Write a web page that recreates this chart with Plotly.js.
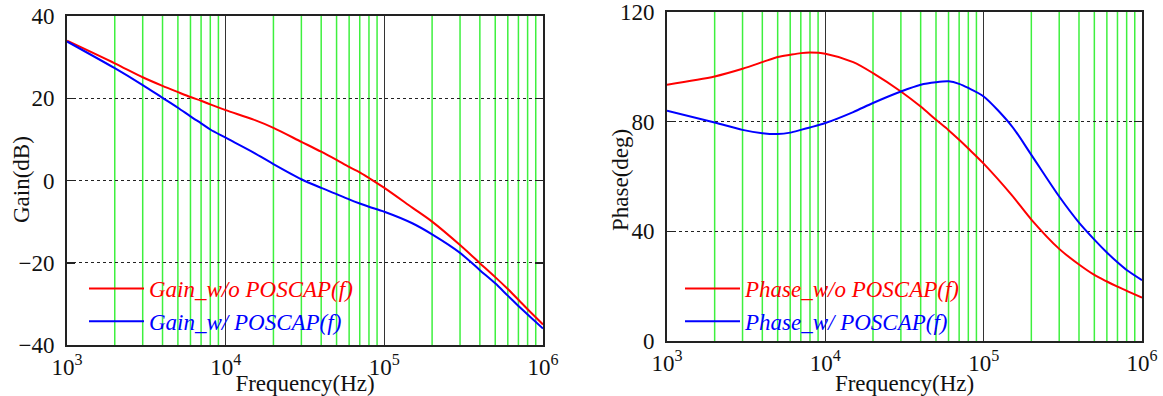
<!DOCTYPE html>
<html>
<head>
<meta charset="utf-8">
<script src="https://cdn.plot.ly/plotly-3.0.1.min.js"></script>
<style>
html,body{margin:0;padding:0;background:#fff;}
#chart{width:1163px;height:396px;}
#chart svg text, #chart svg tspan { font-family: "Liberation Serif", "DejaVu Serif", serif !important; }
</style>
</head>
<body>
<div id="chart"></div>
<script>
// ---- data ----
const freq = [1e3,2e3,3e3,4e3,5e3,6e3,7e3,8e3,1e4,1.5e4,2e4,3e4,4e4,5e4,6e4,7e4,8e4,1e5,1.5e5,2e5,3e5,4e5,5e5,6e5,7e5,8e5,1e6];
const gainWoPoscap = [34.0,28.5,25.1,23.0,21.5,20.3,19.4,18.5,17.1,14.8,12.8,9.4,7.0,5.0,3.3,2.0,0.6,-1.8,-6.6,-10.0,-15.7,-20.1,-23.5,-26.4,-29.0,-31.3,-35.0];
const gainWPoscap  = [33.8,27.3,23.2,20.1,17.7,15.6,13.9,12.4,10.4,6.8,4.0,0.3,-1.8,-3.3,-4.6,-5.6,-6.4,-7.6,-10.4,-13.1,-17.6,-21.8,-25.0,-28.0,-30.5,-32.6,-36.0];
const phaseWoPoscap = [93.5,96.5,99.3,101.7,103.6,104.4,105.0,105.2,104.8,101.7,97.7,91.0,85.5,80.7,76.9,73.4,70.2,64.7,53.3,44.3,33.6,27.9,24.1,21.7,19.8,18.3,15.8];
const phaseWPoscap  = [84.0,79.7,77.0,75.8,75.5,76.0,77.0,77.9,79.5,83.5,86.8,91.0,93.5,94.4,94.7,93.8,92.3,89.2,78.5,67.9,52.7,43.2,37.0,32.3,28.7,25.9,22.2];

const seriesNames = {
  gainWo: 'Gain_w/o POSCAP(f)',
  gainW: 'Gain_w/ POSCAP(f)',
  phaseWo: 'Phase_w/o POSCAP(f)',
  phaseW: 'Phase_w/ POSCAP(f)'
};
const xTickVals = [1e3,1e4,1e5,1e6];
const xTickText = ['10<sup>3</sup>','10<sup>4</sup>','10<sup>5</sup>','10<sup>6</sup>'];
const minorMult = [2,3,4,5,6,7,8,9];
const decades = [1e3,1e4,1e5];
const minorVals = [];
decades.forEach(d => minorMult.forEach(m => minorVals.push(d*m)));
const gainTicks = [-40,-20,0,20,40];
const phaseTicks = [0,40,80,120];

// ---- styling ----
const FONT = 'Liberation Serif';
const RED = '#ff0000', BLUE = '#0000ff', GREEN = '#3ef03e';
const legName = (t,c) => '<span style="color:'+c+'"><i>'+t+'</i></span>';

const traces = [
  {x:freq, y:gainWoPoscap, name:legName(seriesNames.gainWo,RED), type:'scatter', mode:'lines',
   line:{color:RED,width:2,shape:'spline',smoothing:0.8}, xaxis:'x', yaxis:'y', legend:'legend', legendgroup:'a'},
  {x:freq, y:gainWPoscap, name:legName(seriesNames.gainW,BLUE), type:'scatter', mode:'lines',
   line:{color:BLUE,width:2,shape:'spline',smoothing:0.8}, xaxis:'x', yaxis:'y', legend:'legend', legendgroup:'b'},
  {x:freq, y:phaseWoPoscap, name:legName(seriesNames.phaseWo,RED), type:'scatter', mode:'lines',
   line:{color:RED,width:2,shape:'spline',smoothing:0.8}, xaxis:'x2', yaxis:'y2', legend:'legend2', legendgroup:'c'},
  {x:freq, y:phaseWPoscap, name:legName(seriesNames.phaseW,BLUE), type:'scatter', mode:'lines',
   line:{color:BLUE,width:2,shape:'spline',smoothing:0.8}, xaxis:'x2', yaxis:'y2', legend:'legend2', legendgroup:'d'}
];

// green minor grid lines (2..9 x each decade), through the x scale
const shapes = [];
[['x','y domain'],['x2','y2 domain']].forEach(([xr,yr]) => {
  minorVals.forEach(v => shapes.push({type:'line', layer:'below', xref:xr, yref:yr,
    x0:v, x1:v, y0:0, y1:1, line:{color:GREEN, width:1.5}}));
});

function xAxis(domain, anchor){
  return {
    type:'log', range:[3,6], domain:domain, anchor:anchor,
    tickmode:'array', tickvals:xTickVals, ticktext:xTickText,
    ticks:'', showgrid:true, gridcolor:'#333', gridwidth:1.5,
    showline:true, linecolor:'#222', linewidth:2, mirror:true,
    zeroline:false, tickfont:{family:FONT,size:23,color:'#111'},
    title:{text:'Frequency(Hz)', font:{family:FONT,size:23,color:'#111'}, standoff:0},
    automargin:false, fixedrange:true
  };
}
function yAxis(domain, anchor, range, ticks){
  return {
    range:range, domain:domain, anchor:anchor,
    tickmode:'array', tickvals:ticks,
    ticks:'inside', ticklen:8, tickwidth:1.5, tickcolor:'#222',
    showgrid:true, gridcolor:'#222', gridwidth:1, griddash:'dot',
    showline:true, linecolor:'#222', linewidth:2, mirror:'ticks',
    zeroline:false, ticklabelstandoff:6,
    tickfont:{family:FONT,size:23,color:'#111'},
    automargin:false, fixedrange:true
  };
}

const layout = {
  width:1163, height:396,
  margin:{l:0,r:0,t:0,b:0},
  paper_bgcolor:'#fff', plot_bgcolor:'#fff',
  showlegend:true,
  font:{family:FONT,size:22,color:'#111'},
  xaxis: xAxis([67/1163, 543/1163], 'y'),
  yaxis: yAxis([1-345/396, 1-16/396], 'x', [-40.001,40.001], gainTicks),
  xaxis2: xAxis([667/1163, 1142/1163], 'y2'),
  yaxis2: yAxis([1-341/396, 1-12/396], 'x2', [-0.001,120.001], phaseTicks),
  shapes: shapes,
  legend:{x:84/1163, y:1-267/396, xanchor:'left', yanchor:'top', bgcolor:'rgba(0,0,0,0)',
          borderwidth:0, itemwidth:55, tracegroupgap:0, traceorder:'grouped',
          font:{family:FONT,size:23}},
  legend2:{x:680/1163, y:1-267/396, xanchor:'left', yanchor:'top', bgcolor:'rgba(0,0,0,0)',
          borderwidth:0, itemwidth:55, tracegroupgap:0, traceorder:'grouped',
          font:{family:FONT,size:23}},
  annotations:[
    {text:'Gain(dB)', xref:'paper', yref:'paper', x:21/1163, y:1-180/396, textangle:-90,
     showarrow:false, font:{family:FONT,size:23,color:'#111'}, xanchor:'center', yanchor:'middle'},
    {text:'Phase(deg)', xref:'paper', yref:'paper', x:620/1163, y:1-180/396, textangle:-90,
     showarrow:false, font:{family:FONT,size:23,color:'#111'}, xanchor:'center', yanchor:'middle'}
  ]
};

Plotly.newPlot('chart', traces, layout, {displayModeBar:false, staticPlot:true});
</script>
</body>
</html>
